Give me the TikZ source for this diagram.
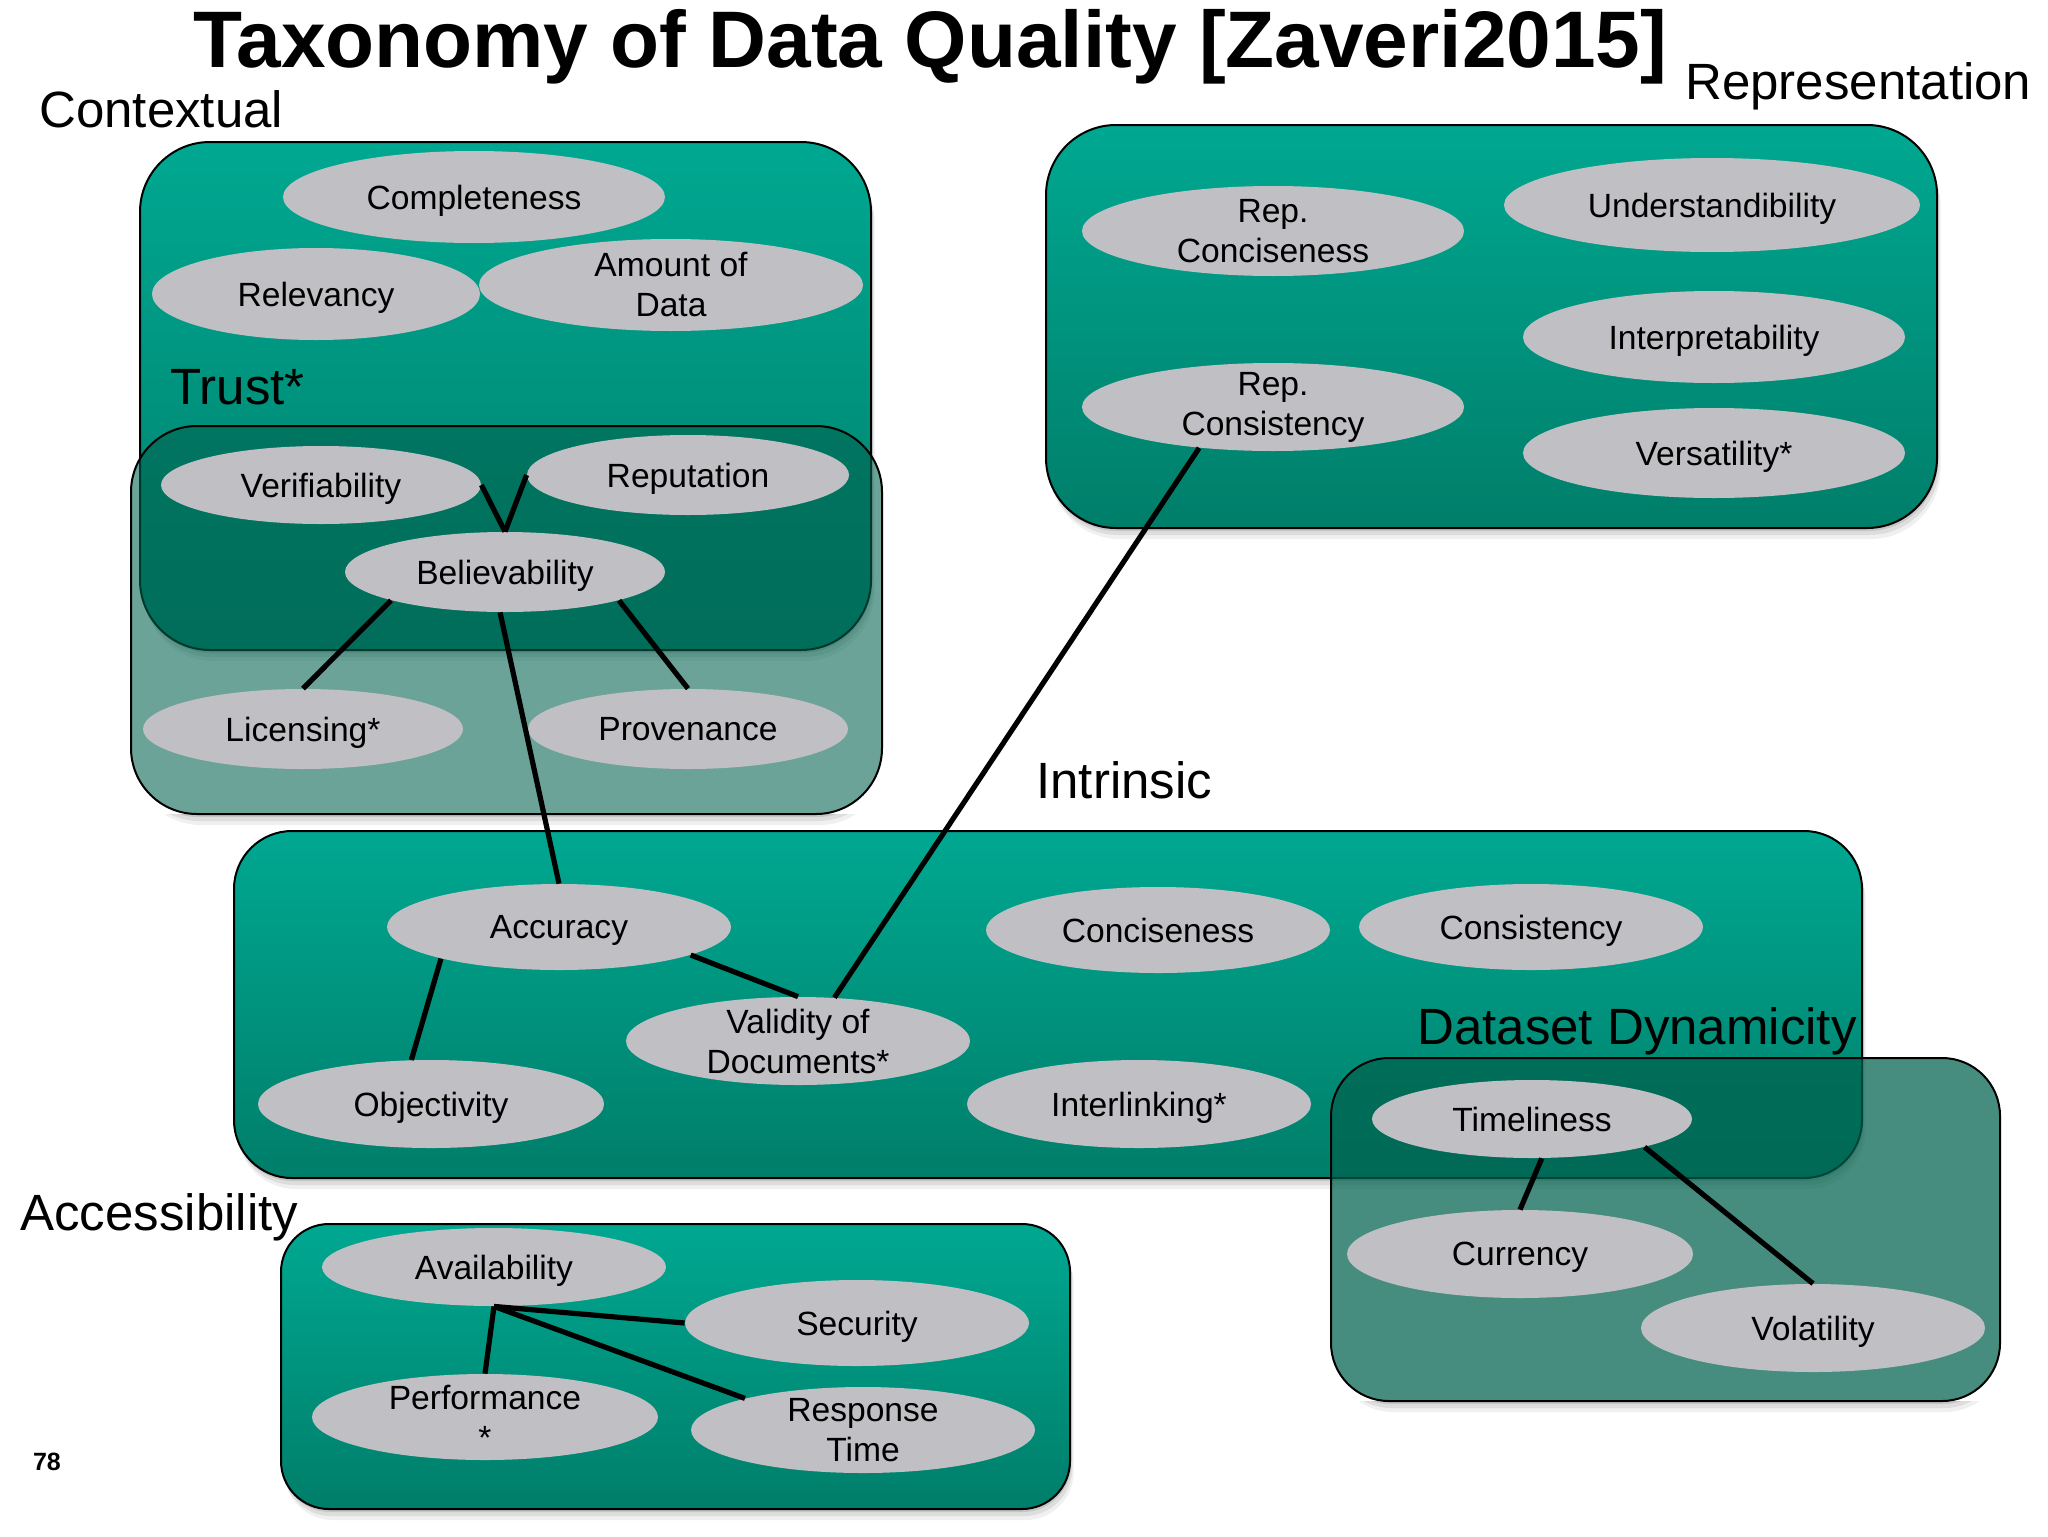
\documentclass[tikz,border=0pt]{standalone}
\usepackage{fontspec}
\setmainfont{Liberation Sans}
\usetikzlibrary{shapes.geometric}
\definecolor{tealtop}{RGB}{0,168,145}
\definecolor{tealbot}{RGB}{0,126,106}
\definecolor{ovlc}{RGB}{0,98,78}
\definecolor{ellgray}{RGB}{192,192,196}
\newcommand\qshadow[5]{%
  \foreach \d/\o in {3/0.10,7/0.08,11/0.06}{%
    \fill[black, opacity=\o, rounded corners=#5] (#1+\d/3,#2+\d) rectangle (#3+\d/3,#4+\d);
  }}
\begin{document}
\begin{tikzpicture}[x=0.5pt,y=-0.5pt,
  grp/.style={draw=black, line width=1pt, top color=tealtop, bottom color=tealbot},
  ovl/.style={draw=black, line width=1pt, fill=ovlc},
  qual/.style={ellipse, fill=ellgray, inner xsep=0pt, inner ysep=-8pt,
    font=\fontsize{16.8}{20}\selectfont, align=center},
  qone/.style={qual, text depth=0pt},
  link/.style={line width=2.6pt, draw=black},
  grplabel/.style={anchor=base west, inner sep=0pt, font=\fontsize{25.5}{30}\selectfont}]
\useasboundingbox[fill=white] (0,0) rectangle (2048,1536);

% ---- opaque group boxes
\qshadow{140}{142}{871}{650}{35pt}
\draw[grp, rounded corners=35pt] (140,142) rectangle (871,650);
\qshadow{1046}{125}{1937}{528}{35pt}
\draw[grp, rounded corners=35pt] (1046,125) rectangle (1937,528);
\qshadow{234}{831}{1862}{1178}{29pt}
\draw[grp, rounded corners=29pt] (234,831) rectangle (1862,1178);
\qshadow{281}{1224}{1070}{1509}{24pt}
\draw[grp, rounded corners=24pt] (281,1224) rectangle (1070,1509);

% ---- translucent overlay boxes
\begin{scope}
  \clip (100,814) rectangle (920,860);
  \qshadow{131}{426}{882}{814}{33pt}
\end{scope}
\draw[ovl, fill opacity=0.58, rounded corners=33pt] (131,426) rectangle (882,814);
\begin{scope}
  \clip (1300,1401) rectangle (2040,1450);
  \qshadow{1331}{1058}{2000}{1401}{29pt}
\end{scope}
\draw[ovl, fill opacity=0.72, rounded corners=29pt] (1331,1058) rectangle (2000,1401);

% ---- quality dimensions
% Contextual
\node[qone, minimum width=191pt, minimum height=46pt] (comp) at (474,197) {Completeness};
\node[qone, minimum width=164pt, minimum height=46pt] (rel) at (316,294) {Relevancy};
\node[qual, minimum width=192pt, minimum height=46pt] (amt) at (671,285) {Amount of\\Data};
% Trust
\node[qone, minimum width=160pt, minimum height=39pt] (ver) at (321,485) {Verifiability};
\node[qone, minimum width=161pt, minimum height=40pt] (rep) at (688,475) {Reputation};
\node[qone, minimum width=160pt, minimum height=40pt] (bel) at (505,572) {Believability};
\node[qone, minimum width=160pt, minimum height=40pt] (lic) at (303,729) {Licensing*};
\node[qone, minimum width=160pt, minimum height=40pt] (prov) at (688,729) {Provenance};
% Intrinsic
\node[qone, minimum width=172pt, minimum height=43pt] (acc) at (559,927) {Accuracy};
\node[qone, minimum width=172pt, minimum height=43pt] (conc) at (1158,930) {Conciseness};
\node[qone, minimum width=172pt, minimum height=43pt] (cons) at (1531,927) {Consistency};
\node[qual, minimum width=172pt, minimum height=44pt] (val) at (798,1041) {Validity of\\Documents*};
\node[qone, minimum width=173pt, minimum height=44pt] (obj) at (431,1104) {Objectivity};
\node[qone, minimum width=172pt, minimum height=44pt] (intl) at (1139,1104) {Interlinking*};
% Representation
\node[qual, minimum width=191pt, minimum height=45pt] (repcc) at (1273,231) {Rep.\\Conciseness};
\node[qual, minimum width=191pt, minimum height=44pt] (repcs) at (1273,407) {Rep.\\Consistency};
\node[qone, minimum width=208pt, minimum height=47pt] (und) at (1712,205) {Understandibility};
\node[qone, minimum width=191pt, minimum height=46pt] (intp) at (1714,337) {Interpretability};
\node[qone, minimum width=191pt, minimum height=45pt] (vers) at (1714,453) {Versatility*};
% Dataset Dynamicity
\node[qone, minimum width=160pt, minimum height=39pt] (tim) at (1532,1119) {Timeliness};
\node[qone, minimum width=173pt, minimum height=44pt] (cur) at (1520,1254) {Currency};
\node[qone, minimum width=172pt, minimum height=44pt] (vol) at (1813,1328) {Volatility};
% Accessibility
\node[qone, minimum width=172pt, minimum height=39pt] (avail) at (494,1267) {Availability};
\node[qone, minimum width=172pt, minimum height=43pt] (sec) at (857,1323) {Security};
\node[qual, minimum width=173pt, minimum height=43pt] (perf) at (485,1417) {Performance\\*};
\node[qual, minimum width=172pt, minimum height=43pt] (resp) at (863,1430) {Response\\Time};

% ---- connectors
\draw[link] (ver.east) -- (bel.north);
\draw[link] (rep.west) -- (bel.north);
\draw[link] (bel.-166) -- (lic.north);
\draw[link] (bel.-14) -- (prov.north);
\draw[link] (bel.-97) -- (acc.north);
\draw[link] (acc.-165) -- (obj.114);
\draw[link] (acc.-12) -- (val.north);
\draw[link] (val.50) -- (repcs.-151);
\draw[link] (tim.-76) -- (cur.north);
\draw[link] (tim.-14) -- (vol.north);
\draw[link] (avail.south) -- (perf.north);
\draw[link] (avail.south) -- (sec.west);
\draw[link] (avail.south) -- (resp.165);

% ---- labels
\node[anchor=base west, inner sep=0pt, font=\bfseries\fontsize{40.1}{45}\selectfont] (title) at (193,68) {Taxonomy of Data Quality [Zaveri2015]};
\node[grplabel] (lctx) at (39,127) {Contextual};
\node[grplabel] (lrep) at (1685,99) {Representation};
\node[grplabel] (ltrust) at (170,404) {Trust*};
\node[grplabel] (lint) at (1036,798) {Intrinsic};
\node[grplabel] (ldd) at (1417,1044) {Dataset Dynamicity};
\node[grplabel] (lacc) at (20,1230) {Accessibility};
\node[inner sep=0pt, font=\bfseries\fontsize{12.5}{15}\selectfont] (pg) at (47,1462) {78};
\end{tikzpicture}
\end{document}
